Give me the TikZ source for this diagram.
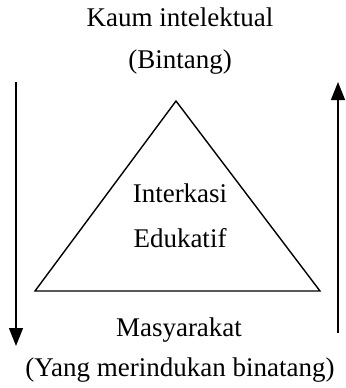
\documentclass[tikz,border=0pt]{standalone}
\usepackage{fontspec}
\setmainfont{Liberation Serif}
\usetikzlibrary{arrows.meta}
\usetikzlibrary{positioning}

\begin{document}
\begin{tikzpicture}[x=0.5pt,y=-0.5pt]
    \useasboundingbox (0,0) rectangle (345,388);

    % labels, the tuple is the baseline of the text
    \begin{scope}[every node/.style={anchor=base,inner sep=0pt,font=\fontsize{13.5}{16}\selectfont}]
    \node (kaum) at (180,26) {Kaum intelektual};
    \node (bintang) at (180,68) {(Bintang)};
    \node (inter) at (180,202) {Interkasi};
    \node (edu) at (180,247) {Edukatif};
    \node (masy) at (179,336) {Masyarakat};
    \node (yang) at (180,376) {(Yang merindukan binatang)};
    \end{scope}

    % corners of the triangle and ends of the arrows
    \coordinate (P) at (176,101);
    \coordinate (L) at (35,291);
    \coordinate (R) at (320,291);
    \coordinate (kiriA) at (16,82);
    \coordinate (kiriB) at (16,346);
    \coordinate (kananA) at (338,333);
    \coordinate (kananB) at (338,82);

    \begin{scope}[>={Triangle[length=9pt,width=7pt]},
              every path/.style={draw=black, line width=0.7pt}]
    \path [line join=miter] (P) -- (L) -- (R) -- cycle;
    \path [->] (kiriA) -- (kiriB);
    \path [->] (kananA) -- (kananB);
    \end{scope}

\end{tikzpicture}
\end{document}
